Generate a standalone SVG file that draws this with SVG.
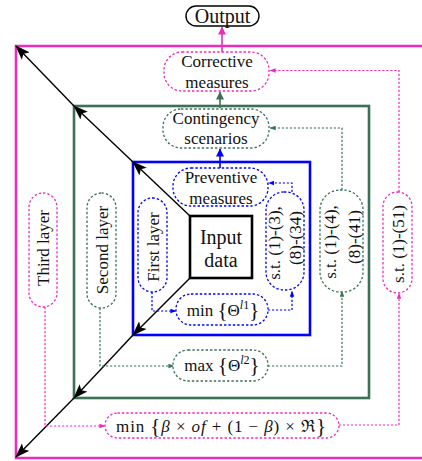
<svg xmlns="http://www.w3.org/2000/svg" width="422" height="461" viewBox="0 0 422 461">
<style>
text{font-family:"Liberation Serif","Times New Roman",serif;font-size:17px;fill:#111;text-anchor:middle}
.it{font-style:italic}
.m{stroke:#ED2BBF}.g{stroke:#3B7157}.b{stroke:#0000FF}
.frame{fill:none;stroke-width:2.6}
.pill{fill:#fff;stroke-width:1.3;stroke-dasharray:2.4,2}
.con{fill:none;stroke-width:1.2;stroke-dasharray:2.2,1.8}
.solid{fill:none;stroke-width:1.6}
.diag{stroke:#000;stroke-width:1.4;fill:none}
</style>
<defs>
<marker id="big" viewBox="0 0 14 10" refX="13" refY="5" markerWidth="15" markerHeight="11" markerUnits="userSpaceOnUse" orient="auto">
<path d="M0,0 L14,5 L0,10 L3,5 Z" fill="#000"/>
</marker>
<marker id="am" viewBox="0 0 8 6" refX="7.5" refY="3" markerWidth="6" markerHeight="5" markerUnits="userSpaceOnUse" orient="auto"><path d="M0,0 L8,3 L0,6 Z" fill="#ED2BBF"/></marker>
<marker id="ag" viewBox="0 0 8 6" refX="7.5" refY="3" markerWidth="6" markerHeight="5" markerUnits="userSpaceOnUse" orient="auto"><path d="M0,0 L8,3 L0,6 Z" fill="#3B7157"/></marker>
<marker id="ab" viewBox="0 0 8 6" refX="7.5" refY="3" markerWidth="6" markerHeight="5" markerUnits="userSpaceOnUse" orient="auto"><path d="M0,0 L8,3 L0,6 Z" fill="#0000FF"/></marker>
<marker id="amL" viewBox="0 0 8 8" refX="7.5" refY="4" markerWidth="8" markerHeight="9" markerUnits="userSpaceOnUse" orient="auto"><path d="M0,0 L8,4 L0,8 Z" fill="#ED2BBF"/></marker>
<marker id="agL" viewBox="0 0 8 8" refX="7.5" refY="4" markerWidth="8" markerHeight="9" markerUnits="userSpaceOnUse" orient="auto"><path d="M0,0 L8,4 L0,8 Z" fill="#3B7157"/></marker>
<marker id="abL" viewBox="0 0 8 8" refX="7.5" refY="4" markerWidth="8" markerHeight="9" markerUnits="userSpaceOnUse" orient="auto"><path d="M0,0 L8,4 L0,8 Z" fill="#0000FF"/></marker>
</defs>

<g id="layer-frames">
<path class="frame m" d="M424,46 H16 V458 H424"/>
<rect class="frame g" x="74" y="106" width="295" height="292"/>
<rect class="frame b" x="133" y="162" width="177" height="173"/>
</g>

<g id="connectors">
<line class="diag" x1="190" y1="216" x2="133" y2="162" marker-end="url(#big)"/>
<line class="diag" x1="133" y1="162" x2="74" y2="106" marker-end="url(#big)"/>
<line class="diag" x1="74" y1="106" x2="16" y2="46" marker-end="url(#big)"/>
<line class="diag" x1="190" y1="278" x2="133" y2="335" marker-end="url(#big)"/>
<line class="diag" x1="133" y1="335" x2="74" y2="398" marker-end="url(#big)"/>
<line class="diag" x1="74" y1="398" x2="16" y2="457" marker-end="url(#big)"/>

<line class="solid m" x1="222" y1="52" x2="222" y2="27" marker-end="url(#amL)"/>
<line class="solid g" x1="220" y1="108" x2="220" y2="92" marker-end="url(#agL)"/>
<line class="solid b" x1="220" y1="168" x2="220" y2="149" marker-end="url(#abL)"/>

<path class="con b" d="M152,292 V311 H176" marker-end="url(#ab)"/>
<path class="con b" d="M268,310 H292 V291" marker-end="url(#ab)"/>
<path class="con b" d="M292,192 V183 H268.5" marker-end="url(#ab)"/>

<path class="con g" d="M100,308 V366 H174" marker-end="url(#ag)"/>
<path class="con g" d="M268,366 H342 V291" marker-end="url(#ag)"/>
<path class="con g" d="M342,190 V128 H270" marker-end="url(#ag)"/>

<path class="con m" d="M45,307 V426 H105" marker-end="url(#am)"/>
<path class="con m" d="M339,425 H399 V293" marker-end="url(#am)"/>
<path class="con m" d="M399,192 V70.5 H270" marker-end="url(#am)"/>
</g>

<g id="output">
<rect x="186" y="6" width="73" height="20" rx="10" fill="#fff" stroke="#000" stroke-width="1.4"/>
<text x="222.5" y="23" style="font-size:20px">Output</text>
</g>

<g id="corrective">
<rect class="pill m" x="164" y="52" width="105" height="39" rx="18"/>
<text x="217" y="67">Corrective</text>
<text x="217" y="88">measures</text>
</g>

<g id="contingency">
<rect class="pill g" x="163" y="109" width="106" height="39" rx="18"/>
<text x="216" y="124">Contingency</text>
<text x="216" y="144">scenarios</text>
</g>

<g id="preventive">
<rect class="pill b" x="173" y="168" width="95" height="38" rx="18"/>
<text x="221" y="183">Preventive</text>
<text x="221" y="204">measures</text>
</g>

<g id="input">
<rect x="190" y="216" width="62" height="62" fill="#fff" stroke="#000" stroke-width="2.6"/>
<text x="221" y="244" style="font-size:20px">Input</text>
<text x="221" y="267" style="font-size:20px">data</text>
</g>

<g id="first-layer">
<rect class="pill b" x="138" y="198" width="29" height="94" rx="14.5"/>
<text transform="translate(153,247) rotate(-90)" y="5.5">First layer</text>
</g>

<g id="second-layer">
<rect class="pill g" x="87" y="193" width="29" height="115" rx="14.5"/>
<text transform="translate(102,250) rotate(-90)" y="5.5">Second layer</text>
</g>

<g id="third-layer">
<rect class="pill m" x="29" y="193" width="28" height="114" rx="14"/>
<text transform="translate(43,248) rotate(-90)" y="5.5">Third layer</text>
</g>

<g id="st1">
<rect class="pill b" x="266" y="192" width="38" height="98" rx="18"/>
<text transform="translate(274,243) rotate(-90)" y="5.5">s.t. (1)-(3),</text>
<text transform="translate(295,238) rotate(-90)" y="5.5">(8)-(34)</text>
</g>

<g id="st2">
<rect class="pill g" x="320" y="190" width="43" height="102" rx="20"/>
<text transform="translate(330,242) rotate(-90)" y="5.5">s.t. (1)-(4),</text>
<text transform="translate(354,237) rotate(-90)" y="5.5">(8)-(41)</text>
</g>

<g id="st3">
<rect class="pill m" x="383" y="192" width="29" height="101" rx="14.5"/>
<text transform="translate(398,244) rotate(-90)" y="5.5">s.t. (1)-(51)</text>
</g>

<g id="min1">
<rect class="pill b" x="176" y="294" width="92" height="31" rx="15"/>
<text x="223" y="316">min <tspan style="font-size:21px" dy="1">{</tspan><tspan dy="-1">Θ</tspan><tspan class="it" style="font-size:12px" dy="-7">l</tspan><tspan style="font-size:12px">1</tspan><tspan style="font-size:21px" dy="8">}</tspan></text>
</g>

<g id="max2">
<rect class="pill g" x="173" y="350" width="95" height="31" rx="15"/>
<text x="222" y="371">max <tspan style="font-size:21px" dy="1">{</tspan><tspan dy="-1">Θ</tspan><tspan class="it" style="font-size:12px" dy="-7">l</tspan><tspan style="font-size:12px">2</tspan><tspan style="font-size:21px" dy="8">}</tspan></text>
</g>

<g id="min3">
<rect class="pill m" x="105" y="413" width="234" height="25" rx="12.5"/>
<text x="221" y="432" textLength="210" lengthAdjust="spacing">min <tspan style="font-size:21px" dy="1">{</tspan><tspan class="it" dy="-1">β</tspan> × <tspan class="it">of</tspan> + (1 − <tspan class="it">β</tspan>) × ℜ<tspan style="font-size:21px" dy="1">}</tspan></text>
</g>
</svg>
